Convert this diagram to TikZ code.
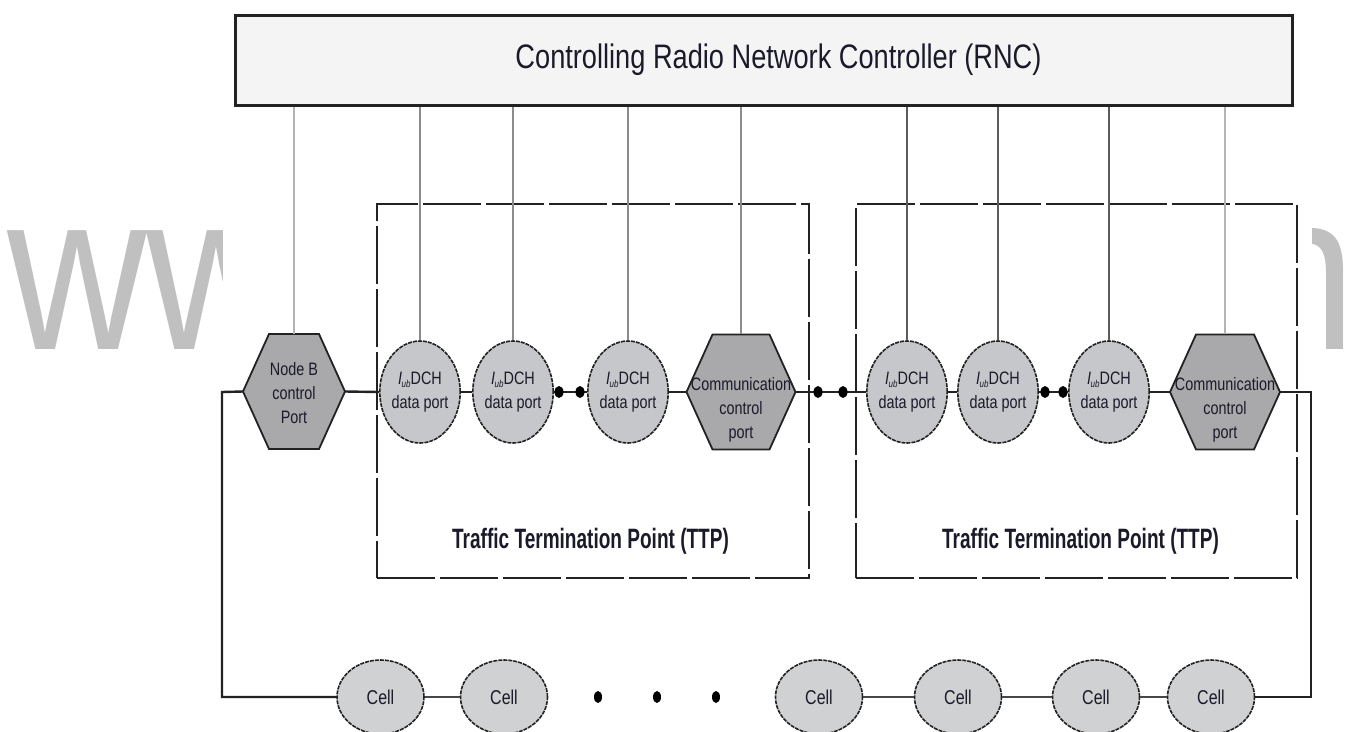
\documentclass[tikz,border=0pt]{standalone}
\usepackage{fontspec}
\setmainfont[FakeStretch=0.8]{Liberation Sans}
\newfontfamily\ttpfont[FakeStretch=0.68]{Liberation Sans}
\newfontfamily\wmfont[FakeStretch=0.86]{Liberation Sans}
\usetikzlibrary{shapes.geometric}

\definecolor{rncfill}{HTML}{F4F4F4}
\definecolor{hexfill}{HTML}{A9A9AC}
\definecolor{portfill}{HTML}{C6C7CA}
\definecolor{cellfill}{HTML}{D0D1D3}
\definecolor{edge}{HTML}{222222}
\definecolor{linkgray}{HTML}{474747}
\definecolor{wmgray}{HTML}{C0C0C0}
\definecolor{feedlight}{HTML}{B4B4B4}
\definecolor{feedmid}{HTML}{8C8C8C}
\definecolor{feeddark}{HTML}{5C5C5C}
\definecolor{inktext}{HTML}{1A1A2A}

% Iub subscripted label
\newcommand\iub{{\itshape I}\kern-0.5pt\raisebox{-0.35ex}{\fontsize{10}{10}\selectfont\itshape ub}}

\tikzset{
  rncbox/.style={draw=edge, line width=2.5pt, fill=rncfill, inner sep=0pt},
  rnctext/.style={inner sep=0pt, text=inktext, font=\fontsize{34}{40}\selectfont},
  ttpbox/.style={draw=edge, line width=2.2pt, dash pattern=on 58pt off 5pt, inner sep=0pt},
  ttptext/.style={inner sep=0pt, text=inktext, font=\ttpfont\bfseries\fontsize{28}{32}\selectfont},
  dataport/.style={ellipse, draw=edge, line width=1.6pt, dash pattern=on 4pt off 1pt,
    fill=portfill, minimum width=78pt, minimum height=102pt, inner sep=0pt,
    text=inktext, font=\fontsize{18}{24}\selectfont, align=center},
  cell/.style={ellipse, draw=edge, line width=1.6pt, dash pattern=on 4pt off 1pt,
    fill=cellfill, minimum width=87pt, minimum height=74pt, inner sep=0pt,
    text=inktext, font=\fontsize{20}{24}\selectfont},
  hexshape/.style={draw=edge, line width=1.8pt, fill=hexfill},
  hexanchor/.style={rectangle, draw=none, minimum height=115pt, inner sep=0pt},
  hextext/.style={inner sep=0pt, text=inktext, font=\fontsize{18}{24}\selectfont, align=center},
  bus/.style={draw=edge, line width=2.4pt},
  link/.style={draw=linkgray, line width=2.2pt},
  feed/.style={line width=2.6pt},
  busdot/.style={ellipse, fill=black, minimum width=9pt, minimum height=12pt, inner sep=0pt},
  celldot/.style={ellipse, fill=black, minimum width=8pt, minimum height=12pt, inner sep=0pt},
  wmtext/.style={text=wmgray, inner sep=0pt, font=\wmfont\fontsize{225}{225}\selectfont},
}

% hexagonal port: name, x, y, half width, text y, text
\newcommand\hexport[6]{%
  \draw[hexshape] (#2-#4,#3) -- (#2-#4+26,#3-57.5) -- (#2+#4-26,#3-57.5)
    -- (#2+#4,#3) -- (#2+#4-26,#3+57.5) -- (#2-#4+26,#3+57.5) -- cycle;
  \node[hexanchor, minimum width=2*#4] (#1) at (#2,#3) {};
  \node[hextext] (#1-label) at (#2,#5) {#6};
}

\begin{document}
\begin{tikzpicture}[x=1pt, y=-1pt]
\useasboundingbox (0,0) rectangle (1348,731);

% background lettering
\begin{scope}
  \clip (0,0) rectangle (222,731);
  \node[wmtext, anchor=base west] (wmleft) at (7,349) {ww};
\end{scope}
\begin{scope}
  \clip (1312,0) rectangle (1348,731);
  \node[wmtext, anchor=base west] (wmright) at (1248.6,349) {n};
\end{scope}

% controlling RNC
\node[rncbox, anchor=north west, minimum width=1057pt, minimum height=90pt] (rnc) at (234,14) {};
\node[rnctext, anchor=base] (rnclabel) at (778.5,68) {Controlling Radio Network Controller (RNC)};

% traffic termination points
\node[ttpbox, anchor=north west, minimum width=432pt, minimum height=374pt] (ttp1) at (376,203) {};
\node[ttpbox, anchor=north west, minimum width=441pt, minimum height=374pt] (ttp2) at (855,203) {};
\node[ttptext, anchor=base] (ttp1label) at (590.5,548) {Traffic Termination Point (TTP)};
\node[ttptext, anchor=base] (ttp2label) at (1080.5,548) {Traffic Termination Point (TTP)};

% hexagonal control ports
\hexport{nbp}{294}{391.5}{51}{393}{Node B\\control\\Port}
\hexport{ccp1}{741}{392}{54.5}{410}{Communication\\control\\port}
\hexport{ccp2}{1225}{392}{55}{410}{Communication\\control\\port}

% data ports
\node[dataport] (dp1) at (420,392) {\iub DCH\\data port};
\node[dataport] (dp2) at (513,392) {\iub DCH\\data port};
\node[dataport] (dp3) at (628,392) {\iub DCH\\data port};
\node[dataport] (dp4) at (907,392) {\iub DCH\\data port};
\node[dataport] (dp5) at (998,392) {\iub DCH\\data port};
\node[dataport] (dp6) at (1109,392) {\iub DCH\\data port};

% cells
\node[cell] (c1) at (380.5,697) {Cell};
\node[cell] (c2) at (504,697) {Cell};
\node[cell] (c3) at (819,697) {Cell};
\node[cell] (c4) at (958,697) {Cell};
\node[cell] (c5) at (1096,697) {Cell};
\node[cell] (c6) at (1211,697) {Cell};

% feeds from the RNC
\draw[feed, feedlight] (nbp.north)  -- (nbp.north  |- rnc.south);
\draw[feed, feedmid]   (dp1.north)  -- (dp1.north  |- rnc.south);
\draw[feed, feedmid]   (dp2.north)  -- (dp2.north  |- rnc.south);
\draw[feed, feedmid]   (dp3.north)  -- (dp3.north  |- rnc.south);
\draw[feed, feedmid]   (ccp1.north) -- (ccp1.north |- rnc.south);
\draw[feed, feeddark]  (dp4.north)  -- (dp4.north  |- rnc.south);
\draw[feed, feeddark]  (dp5.north)  -- (dp5.north  |- rnc.south);
\draw[feed, feeddark]  (dp6.north)  -- (dp6.north  |- rnc.south);
\draw[feed, feedlight] (ccp2.north) -- (ccp2.north |- rnc.south);

% port bus
\draw[bus] (nbp.east)  -- (dp1.west);
\draw[bus] (dp1.east)  -- (dp2.west);
\draw[bus] (dp2.east)  -- (dp3.west);
\draw[bus] (dp3.east)  -- (ccp1.west);
\draw[bus] (ccp1.east) -- (dp4.west);
\draw[bus] (dp4.east)  -- (dp5.west);
\draw[bus] (dp5.east)  -- (dp6.west);
\draw[bus] (dp6.east)  -- (ccp2.west);

% ellipsis dots on the bus
\node[busdot] (bd1) at (559,392) {};
\node[busdot] (bd2) at (580,392) {};
\node[busdot] (bd3) at (818,392) {};
\node[busdot] (bd4) at (843,392) {};
\node[busdot] (bd5) at (1045,392) {};
\node[busdot] (bd6) at (1063,392) {};

% loop down to the cells
\coordinate (loopL) at (222,392);
\coordinate (loopR) at (1311,392);
\draw[bus] (nbp.west) -- (loopL) |- (c1.west);
\draw[bus] (ccp2.east) -- (loopR) |- (c6.east);

% links between cells
\draw[link] (c1.east) -- (c2.west);
\draw[link] (c3.east) -- (c4.west);
\draw[link] (c4.east) -- (c5.west);
\draw[link] (c5.east) -- (c6.west);
\node[celldot] (cd1) at (598,697) {};
\node[celldot] (cd2) at (657,697) {};
\node[celldot] (cd3) at (716,697) {};
\end{tikzpicture}
\end{document}
